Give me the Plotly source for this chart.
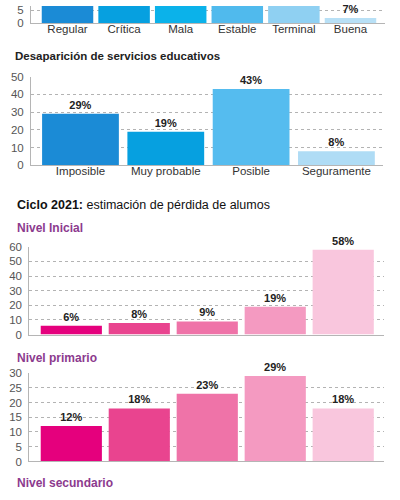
import plotly.graph_objects as go

W, H = 400, 500

# ---- data ----
estado_cats = ["Regular", "Crítica", "Mala", "Estable", "Terminal", "Buena"]
estado_vals = [30, 26, 22, 14, 10, 1.9]
estado_text = ["", "", "", "", "", "7%"]

desap_cats = ["Imposible", "Muy probable", "Posible", "Seguramente"]
desap_vals = [29, 19, 43, 8]
desap_text = ["29%", "19%", "43%", "8%"]

nivel_pos = [0, 1, 2, 3, 4]
inicial_vals = [6, 8, 9, 19, 58]
inicial_text = ["6%", "8%", "9%", "19%", "58%"]
primario_vals = [12, 18, 23, 29, 18]
primario_text = ["12%", "18%", "23%", "29%", "18%"]

# ---- styles ----
blues6 = ["#1b8bd6", "#06a0e0", "#0bb2ea", "#50baed", "#8fd0f2", "#b8e0f6"]
blues4 = ["#1b8bd6", "#06a0e0", "#55bcef", "#afdcf5"]
pinks = ["#e5007d", "#e9448f", "#ef73a8", "#f49ac1", "#f9c6dd"]
FONT = "Liberation Sans"
PURPLE = "#8c3a8e"


def fx(p):
    return p / W


def fy(p):
    return 1 - p / H


fig = go.Figure()
label_font = dict(family=FONT, size=11, color="#222", weight="bold")

fig.add_trace(go.Bar(x=estado_cats, y=estado_vals, text=estado_text, textposition="outside",
                     marker=dict(color=blues6, line=dict(width=0)), width=0.91,
                     textfont=label_font, xaxis="x", yaxis="y", cliponaxis=False))
fig.add_trace(go.Bar(x=desap_cats, y=desap_vals, text=desap_text, textposition="outside",
                     marker=dict(color=blues4, line=dict(width=0)), width=0.9,
                     textfont=label_font, xaxis="x2", yaxis="y2", cliponaxis=False))
fig.add_trace(go.Bar(x=nivel_pos, y=inicial_vals, text=inicial_text, textposition="outside",
                     marker=dict(color=pinks, line=dict(width=0)), width=0.9,
                     textfont=label_font, xaxis="x3", yaxis="y3", cliponaxis=False))
fig.add_trace(go.Bar(x=nivel_pos, y=primario_vals, text=primario_text, textposition="outside",
                     marker=dict(color=pinks, line=dict(width=0)), width=0.9,
                     textfont=label_font, xaxis="x4", yaxis="y4", cliponaxis=False))

ycommon = dict(showgrid=True, gridcolor="#b3b3b3", griddash="dot", gridwidth=1,
               showline=True, linecolor="#b5b5b5", linewidth=1, ticks="", zeroline=False,
               tickfont=dict(family=FONT, size=11.5, color="#555"), ticklabelstandoff=4,
               fixedrange=True)
xcommon = dict(showgrid=False, showline=True, linecolor="#b5b5b5", linewidth=1, ticks="",
               zeroline=False, tickfont=dict(family=FONT, size=11.5, color="#333"),
               ticklabelstandoff=-5, fixedrange=True)

fig.update_layout(
    width=W, height=H, margin=dict(l=0, r=0, t=0, b=0),
    paper_bgcolor="white", plot_bgcolor="white", showlegend=False,
    xaxis=dict(xcommon, domain=[fx(31), fx(385)], range=[-0.645, 5.61], anchor="y"),
    yaxis=dict(ycommon, domain=[fy(17.3), 1], range=[0, 6.65], dtick=5, anchor="x"),
    xaxis2=dict(xcommon, domain=[fx(31), fx(383)], range=[-0.58, 3.546], anchor="y2"),
    yaxis2=dict(ycommon, domain=[fy(163.3), fy(72.3)], range=[0, 50], dtick=10, anchor="x2"),
    xaxis3=dict(xcommon, domain=[fx(29.3), fx(384)], range=[-0.618, 4.6], anchor="y3",
                showticklabels=False),
    yaxis3=dict(ycommon, domain=[fy(336.7), fy(246.7)], range=[0, 60], dtick=10, anchor="x3"),
    xaxis4=dict(xcommon, domain=[fx(29.3), fx(384)], range=[-0.618, 4.6], anchor="y4",
                showticklabels=False),
    yaxis4=dict(ycommon, domain=[fy(466.7), fy(376)], range=[0, 30], dtick=5, anchor="x4"),
)

titles = [
    ("<b>Desaparición de servicios educativos</b>", 13, 51.7, 11.5, "#222"),
    ("<b>Ciclo 2021:</b> estimación de pérdida de alumos", 15, 204, 12.5, "#111"),
    ("<b>Nivel Inicial</b>", 15, 227.7, 12, PURPLE),
    ("<b>Nivel primario</b>", 15, 360.7, 12, PURPLE),
    ("<b>Nivel secundario</b>", 15, 489, 12, PURPLE),
]
for txt, x, y, size, color in titles:
    fig.add_annotation(text=txt, xref="paper", yref="paper", x=fx(x), y=fy(y),
                       xanchor="left", yanchor="middle", showarrow=False,
                       font=dict(family=FONT, size=size, color=color))

fig.write_html("out.html", config={"displayModeBar": False})
